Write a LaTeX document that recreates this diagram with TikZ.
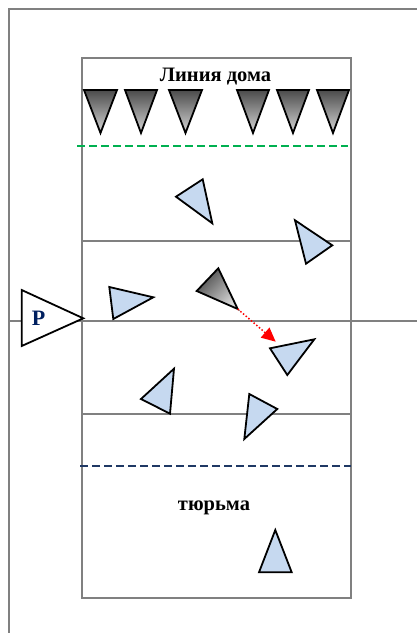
\documentclass[tikz,border=0pt]{standalone}
\usepackage{fontspec}
\setmainfont{Liberation Serif}
\usetikzlibrary{arrows.meta}
\definecolor{courtgray}{RGB}{128,128,128}
\definecolor{homegreen}{RGB}{0,176,80}
\definecolor{jailnavy}{RGB}{31,56,100}
\definecolor{playerblue}{RGB}{198,217,240}
\definecolor{labelnavy}{RGB}{0,32,96}
\definecolor{shadedark}{RGB}{75,75,75}
\definecolor{shadelight}{RGB}{215,215,215}

\begin{document}
\begin{tikzpicture}[x=1pt, y=-1pt,
  court/.style={draw=courtgray, line width=2.5pt},
  dashline/.style={line width=2pt, dash pattern=on 8pt off 4pt},
  defender/.style={draw=black, line width=1.8pt, top color=shadedark, bottom color=shadelight},
  runner/.style={draw=black, line width=1.8pt, fill=playerblue},
  caption/.style={font=\fontsize{20.5}{20.5}\selectfont\bfseries, inner sep=0pt, anchor=base},
  move/.style={-{Triangle[length=14pt,width=13pt]}, draw=red, line width=1.5pt, dotted}
]
  \useasboundingbox (0,0) rectangle (417,633);

  % court
  \draw[court] (9,633) -- (9,9) -- (417,9);
  \draw[court] (82,58) rectangle (351,598);
  \draw[court] (82,241) -- (351,241);
  \draw[court] (9,321) -- (417,321);
  \draw[court] (82,414) -- (351,414);
  \draw[dashline, draw=homegreen] (77,145.5) -- (348,145.5);
  \draw[dashline, draw=jailnavy] (80,466) -- (351,466);

  \node[caption] (homeline) at (215.5,81) {Линия дома};
  \node[caption] (jail)     at (214,510)  {тюрьма};

  % defenders on the home line
  \draw[defender] (84,90)  -- (117,90) -- (100.5,133) -- cycle;
  \draw[defender] (125,90) -- (157,90) -- (141,133)   -- cycle;
  \draw[defender] (169,90) -- (202,90) -- (185.5,133) -- cycle;
  \draw[defender] (237,90) -- (269,90) -- (253,133)   -- cycle;
  \draw[defender] (277,90) -- (309,90) -- (293,133)   -- cycle;
  \draw[defender] (317,90) -- (349,90) -- (333,133)   -- cycle;

  % catcher
  \draw[defender, shading angle=45] (218.3,268.3) -- (196.7,291) -- (237.7,309) -- cycle;
  \coordinate (catcher) at (237.7,309);

  % runners
  \draw[runner] (176,196.7) -- (202.7,179.3) -- (212.3,223.3) -- cycle;
  \draw[runner] (295,220.3) -- (332.3,245.3) -- (306,263.7)   -- cycle;
  \draw[runner] (109.3,287) -- (153.3,297.3) -- (113.3,319)   -- cycle;
  \draw[runner] (270,348.3) -- (314.3,339.3) -- (287.3,375)   -- cycle;
  \coordinate (target) at (275.7,341.7);
  \draw[runner] (141,399)   -- (174,368.7)   -- (170,413.7)   -- cycle;
  \draw[runner] (249.3,394) -- (277.3,409)   -- (244.3,439)   -- cycle;
  \draw[runner] (275.3,530) -- (291.7,572.3) -- (259,572.3)   -- cycle;

  \draw[move] (catcher) -- (target);

  % pitcher
  \draw[draw=black, line width=1.8pt, fill=white] (21.7,290) -- (83.3,318.3) -- (21.7,346) -- cycle;
  \node[caption, font=\fontsize{22}{22}\selectfont\bfseries, text=labelnavy] (pitcher) at (38.7,325) {P};
\end{tikzpicture}
\end{document}
